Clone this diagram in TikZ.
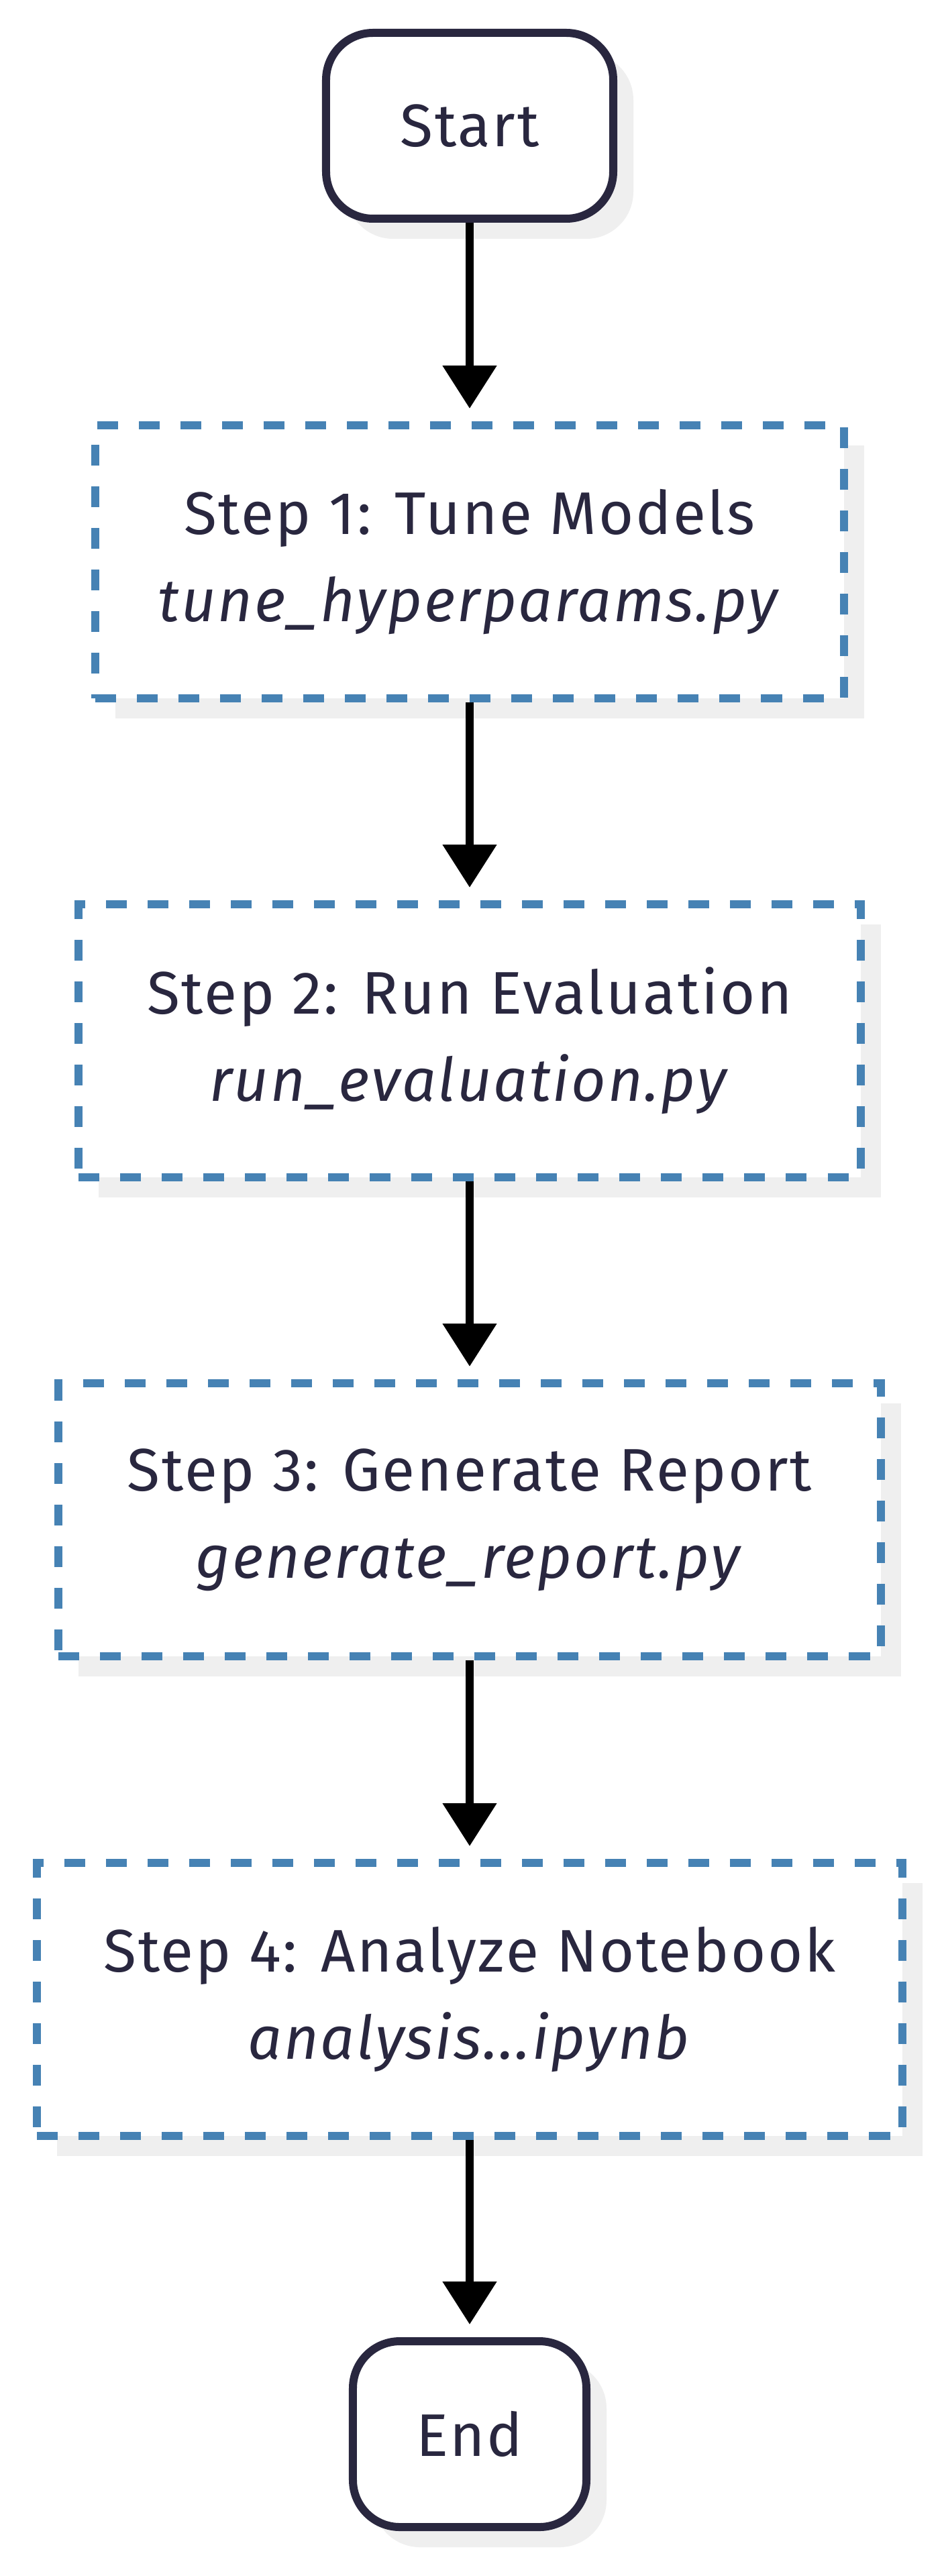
\documentclass[tikz,border=0pt]{standalone}
\usepackage{fontspec}
\setmainfont[LetterSpace=3]{Fira Sans}
\usetikzlibrary{arrows.meta,shadows}
\definecolor{ink}{HTML}{29273F}
\definecolor{steel}{HTML}{4682B4}
\definecolor{shade}{HTML}{EFEFEF}

\begin{document}
\begin{tikzpicture}[
    >={Triangle[length=0.64cm, width=0.78cm]},
    termbox/.style={rectangle, rounded corners=0.7cm, draw=ink, line width=0.12cm, fill=white, text=ink, minimum height=2.77cm, font=\fontsize{25.5}{37}\selectfont, drop shadow={shadow xshift=0.3cm, shadow yshift=-0.3cm, fill=shade, opacity=1}},
    stepbox/.style={rectangle, draw=steel, dash pattern=on 0.31cm off 0.31cm, line width=0.12cm, fill=white, text=ink, minimum height=4.07cm, align=center, font=\fontsize{25.5}{37}\selectfont, drop shadow={shadow xshift=0.3cm, shadow yshift=-0.3cm, fill=shade, opacity=1}},
    flow/.style={->, line width=0.12cm, shorten >=0.19cm}
]
\path[use as bounding box, fill=white] (-7.00,1.875) rectangle (7.06,-36.525);

% Start
\node[termbox, minimum width=4.28cm] (start) at (0,0) {Start};

% Steps
\node[stepbox, minimum width=11.15cm] (tune) at (0,-6.50) {Step 1: Tune Models\\\textit{tune\_hyperparams.py}};
\node[stepbox, minimum width=11.65cm] (eval) at (0,-13.64) {Step 2: Run Evaluation\\\textit{run\_evaluation.py}};
\node[stepbox, minimum width=12.25cm] (report) at (0,-20.78) {Step 3: Generate Report\\\textit{generate\_report.py}};
\node[stepbox, minimum width=12.89cm] (notebook) at (0,-27.93) {Step 4: Analyze Notebook\\\textit{analysis...ipynb}};

% End
\node[termbox, minimum width=3.48cm] (end) at (0,-34.41) {End};

% Connections
\draw[flow] (start) -- (tune);
\draw[flow] (tune) -- (eval);
\draw[flow] (eval) -- (report);
\draw[flow] (report) -- (notebook);
\draw[flow] (notebook) -- (end);
\end{tikzpicture}
\end{document}
